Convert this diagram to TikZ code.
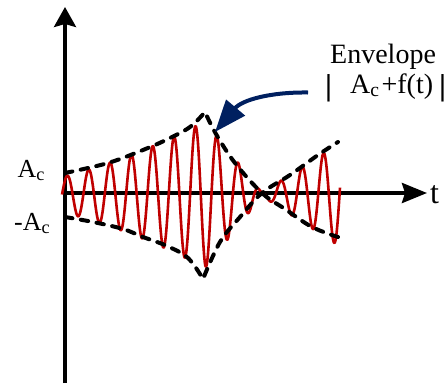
\documentclass[tikz,border=0pt]{standalone}
\usepackage{fontspec}
\setmainfont{Liberation Serif}
\usetikzlibrary{arrows.meta}
\definecolor{wavered}{HTML}{C00000}
\definecolor{arrownavy}{HTML}{002060}
\newcommand\tallbar{\raisebox{-2.5pt}{\scalebox{1.6}[1.08]{|}}}
\begin{document}
\begin{tikzpicture}[x=1pt,y=-1pt,
  axisline/.style={line width=3.5pt},
  envline/.style={line width=4pt, line cap=round, line join=miter, dash pattern=on 7.5pt off 8.5pt},
  carrier/.style={wavered, line width=2.6pt, line join=round},
  lbl/.style={inner sep=0pt, anchor=base west},
  declare function={envamp(\x)=ifthenelse(\x<205, 19+0.267*(\x-68)+0.00095*(\x-68)*(\x-68),
      ifthenelse(\x<262, 73.4-1.26*(\x-205), 1.5+0.65*(\x-262)));}
]
\useasboundingbox (0,0) rectangle (446,383);
% axes
\coordinate (ybot) at (65,383);
\coordinate (ytop) at (65,7);
\coordinate (xbeg) at (63.5,193);
\coordinate (xend) at (427,193);
\draw[axisline,-{Stealth[length=20pt,width=22pt,inset=3pt]}] (ybot) -- (ytop);
\draw[axisline,-{Stealth[length=25pt,width=20pt,inset=3pt]}] (xbeg) -- (xend);
% carrier
\draw[carrier] plot[domain=62:340, samples=700] (\x, {194.5 - envamp(\x)*sin(16.862*(\x-62))});
% envelope
\draw[envline] plot[smooth, tension=0.6] coordinates {(65,173) (108,163) (143,150) (168,139) (190,127) (205,112)}
  -- plot[smooth, tension=0.6] coordinates {(205,112) (216,134) (235,163) (262,193) (285,209) (312,227) (338,237)};
\draw[envline] plot[smooth, tension=0.6] coordinates {(65,217) (93,222) (123,229) (143,237) (167,246) (188,258) (203,279)}
  -- plot[smooth, tension=0.6] coordinates {(203,279) (220,242) (240,217) (262,193) (290,175) (318,155) (338,142)};
% labels
\node[lbl, font=\fontsize{26}{26}\selectfont] (ac) at (17.5,177) {A\textsubscript{c}};
\node[lbl, font=\fontsize{26}{26}\selectfont] (mac) at (14,230) {-A\textsubscript{c}};
\node[lbl, font=\fontsize{32}{32}\selectfont] (tl) at (430,203) {t};
\node[lbl, font=\fontsize{28}{28}\selectfont] (env1) at (330,63) {Envelope};
\node[lbl, font=\fontsize{28}{28}\selectfont] (env2) at (324,93) {\tallbar\hspace{10pt} A\textsubscript{c}\hspace{2pt}+f(t)\hspace{5pt}\tallbar};
% pointer arrow
\coordinate (arrS) at (308,92.5);
\coordinate (arrT) at (215,132);
\draw[arrownavy, line width=4pt, -{Triangle[length=32pt,width=24pt]}] (arrS) .. controls (270,92) and (242,100) .. (arrT);
\end{tikzpicture}
\end{document}
